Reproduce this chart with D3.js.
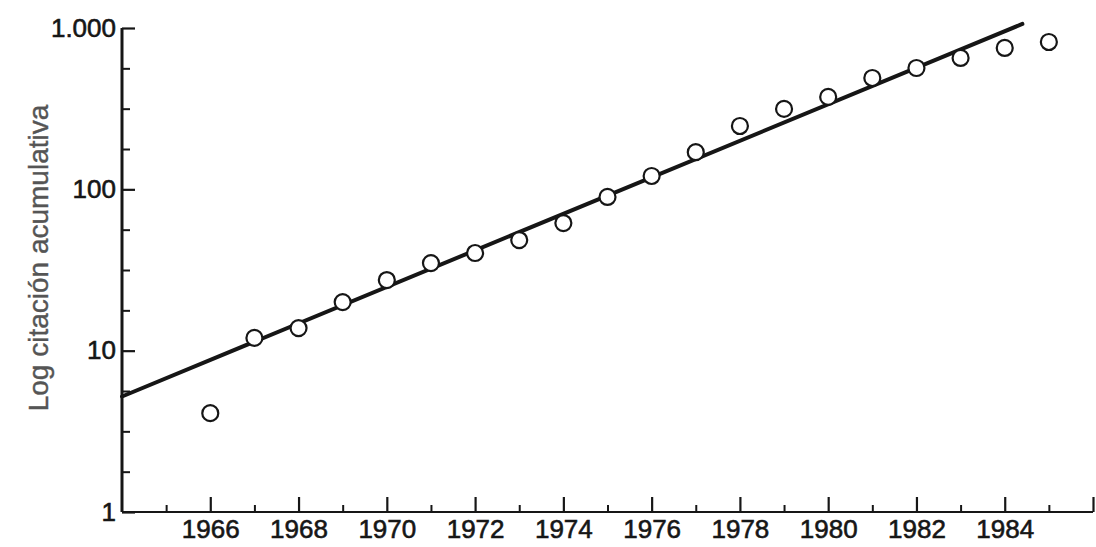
<!DOCTYPE html>
<html>
<head>
<meta charset="utf-8">
<script src="https://cdn.jsdelivr.net/npm/d3@7"></script>
<style>
  html, body { margin: 0; padding: 0; background: #fff; }
  svg { display: block; }
  text { font-family: "Liberation Sans", Arial, Helvetica, sans-serif; }
</style>
</head>
<body>
<svg id="chart" width="1096" height="547"></svg>
<script>
// ---- data ----
const years = [1966, 1967, 1968, 1969, 1970, 1971, 1972, 1973, 1974, 1975,
               1976, 1977, 1978, 1979, 1980, 1981, 1982, 1983, 1984, 1985];
const citations = [4.1, 12, 13.8, 20, 27.4, 34.9, 40.3, 48.5, 61.8, 89.7,
                   121, 170, 247, 315, 374, 490, 565, 652, 752, 819];
// fitted trend line endpoints
const fitYears = [1964, 1984.4];
const fitValues = [5.2, 1060];

const xMajorTicks = [1966, 1968, 1970, 1972, 1974, 1976, 1978, 1980, 1982, 1984, 1986];
const xTickLabels = ["1966", "1968", "1970", "1972", "1974", "1976", "1978", "1980", "1982", "1984", ""];
const xMinorTicks = [1965, 1967, 1969, 1971, 1973, 1975, 1977, 1979, 1981, 1983, 1985];
const yMajorTicks = [1, 10, 100, 1000];
const yTickLabels = ["1", "10", "100", "1.000"];
const yMinorTicks = [1.778, 3.162, 5.623, 17.78, 31.62, 56.23, 177.8, 316.2, 562.3];
const yTitle = "Log citación acumulativa";

// ---- layout ----
const svg = d3.select("#chart");
const mLeft = 122, mRight = 1093, mTop = 28, mBottom = 512;

const x = d3.scaleLinear().domain([1964, 1986]).range([mLeft, mRight]);
const y = d3.scaleLog().domain([1, 1000]).range([mBottom, mTop]);

const ink = "#161616";

// x axis
const xAxisMajor = d3.axisBottom(x).tickValues(xMajorTicks)
  .tickSize(-15).tickPadding(8)
  .tickFormat((d, i) => xTickLabels[i]);
const gx = svg.append("g").attr("transform", `translate(0,${mBottom})`).call(xAxisMajor);
gx.select(".domain").attr("d", `M${mLeft},0H${mRight}`).attr("stroke", ink).attr("stroke-width", 1.8);
gx.selectAll(".tick line").attr("stroke", ink).attr("stroke-width", 2.2);
gx.selectAll(".tick text").attr("fill", ink).attr("font-size", 26)
  .attr("stroke", ink).attr("stroke-width", 0.6);

const xAxisMinor = d3.axisBottom(x).tickValues(xMinorTicks).tickSize(-7).tickFormat("");
const gxm = svg.append("g").attr("transform", `translate(0,${mBottom})`).call(xAxisMinor);
gxm.select(".domain").remove();
gxm.selectAll(".tick line").attr("stroke", ink).attr("stroke-width", 2);

// y axis
const yAxisMajor = d3.axisLeft(y).tickValues(yMajorTicks)
  .tickSize(-13).tickPadding(6)
  .tickFormat((d, i) => yTickLabels[i]);
const gy = svg.append("g").attr("transform", `translate(${mLeft},0)`).call(yAxisMajor);
gy.select(".domain").attr("d", `M0,${mTop}V${mBottom}`).attr("stroke", ink).attr("stroke-width", 3);
gy.selectAll(".tick line").attr("stroke", ink).attr("stroke-width", 2.2);
gy.selectAll(".tick text").attr("fill", ink).attr("font-size", 26)
  .attr("stroke", ink).attr("stroke-width", 0.6).attr("x", -6);

const yAxisMinor = d3.axisLeft(y).tickValues(yMinorTicks).tickSize(-8).tickFormat("");
const gym = svg.append("g").attr("transform", `translate(${mLeft},0)`).call(yAxisMinor);
gym.select(".domain").remove();
gym.selectAll(".tick line").attr("stroke", ink).attr("stroke-width", 2);

// y title
svg.append("text")
  .attr("transform", `translate(48,258) rotate(-90)`)
  .attr("text-anchor", "middle")
  .attr("font-size", 28)
  .attr("fill", "#555")
  .attr("stroke", "#555").attr("stroke-width", 0.4)
  .text(yTitle);

// fit line
const fit = fitYears.map((d, i) => [d, fitValues[i]]);
svg.append("path")
  .datum(fit)
  .attr("d", d3.line().x(d => x(d[0])).y(d => y(d[1])))
  .attr("stroke", ink).attr("stroke-width", 4).attr("fill", "none")
  .attr("stroke-linecap", "round");

// points
svg.append("g").selectAll("circle")
  .data(years.map((d, i) => [d, citations[i]]))
  .join("circle")
  .attr("cx", d => x(d[0]))
  .attr("cy", d => y(d[1]))
  .attr("r", 8)
  .attr("fill", "#fff")
  .attr("stroke", ink)
  .attr("stroke-width", 2.2);
</script>
</body>
</html>
